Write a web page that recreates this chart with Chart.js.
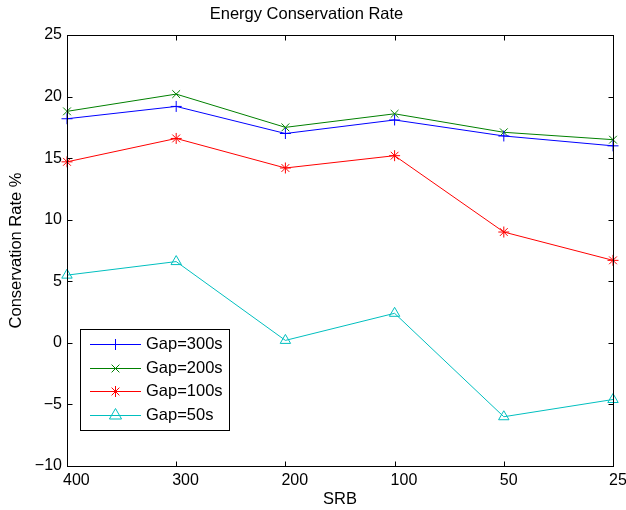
<!DOCTYPE html>
<html>
<head>
<meta charset="utf-8">
<script src="https://cdn.jsdelivr.net/npm/chart.js@4.4.0/dist/chart.umd.min.js"></script>
<style>
  html, body { margin: 0; padding: 0; background: #fff; }
</style>
</head>
<body>
<canvas id="c" width="626" height="510"></canvas>
<script>
const labels = ['400', '300', '200', '100', '50', '25'];
const gap300 = [18.2, 19.2, 17.0, 18.1, 16.8, 16.0];
const gap200 = [18.8, 20.2, 17.5, 18.6, 17.1, 16.5];
const gap100 = [14.7, 16.6, 14.2, 15.2, 9.0, 6.7];
const gap50 = [5.5, 6.6, 0.2, 2.4, -6.0, -4.6];
const yTicks = [-10, -5, 0, 5, 10, 15, 20, 25];

const family = '"Liberation Sans", Arial, Helvetica, sans-serif';

function series(label, data, color, style, r) {
    return {
        label: label,
        data: data,
        borderColor: color,
        backgroundColor: color,
        borderWidth: 1,
        pointStyle: style,
        pointRadius: r,
        pointBorderWidth: 1,
        pointBorderColor: color,
        pointBackgroundColor: 'rgba(0,0,0,0)',
        tension: 0,
        clip: false
    };
}

// own marker drawing for the legend
function marker(ctx, style, x, y, r) {
    ctx.beginPath();
    if (style === 'cross') {
        ctx.moveTo(x - r, y); ctx.lineTo(x + r, y);
        ctx.moveTo(x, y - r); ctx.lineTo(x, y + r);
    } else if (style === 'crossRot') {
        let d = r * 0.707;
        ctx.moveTo(x - d, y - d); ctx.lineTo(x + d, y + d);
        ctx.moveTo(x - d, y + d); ctx.lineTo(x + d, y - d);
    } else if (style === 'star') {
        let d = r * 0.707;
        ctx.moveTo(x - r, y); ctx.lineTo(x + r, y);
        ctx.moveTo(x, y - r); ctx.lineTo(x, y + r);
        ctx.moveTo(x - d, y - d); ctx.lineTo(x + d, y + d);
        ctx.moveTo(x - d, y + d); ctx.lineTo(x + d, y - d);
    } else if (style === 'triangle') {
        ctx.moveTo(x, y - r);
        ctx.lineTo(x + r * 0.866, y + r * 0.5);
        ctx.lineTo(x - r * 0.866, y + r * 0.5);
        ctx.closePath();
    }
    ctx.stroke();
}

const axesBox = {
    id: 'axesBox',
    afterDraw(chart) {
        const ctx = chart.ctx;
        const a = chart.chartArea;
        const L = Math.round(a.left) + 0.5, R = Math.round(a.right) + 0.5;
        const T = Math.round(a.top) + 0.5, B = Math.round(a.bottom) + 0.5;
        ctx.save();
        ctx.strokeStyle = '#000';
        ctx.lineWidth = 1;
        ctx.strokeRect(L, T, R - L, B - T);
        ctx.beginPath();
        const xs = chart.scales.x;
        for (let i = 0; i < xs.ticks.length; i++) {
            let px = Math.round(xs.getPixelForTick(i)) + 0.5;
            ctx.moveTo(px, B); ctx.lineTo(px, B - 5);
            ctx.moveTo(px, T); ctx.lineTo(px, T + 5);
        }
        const ys = chart.scales.y;
        for (let i = 0; i < ys.ticks.length; i++) {
            let py = Math.round(ys.getPixelForTick(i)) + 0.5;
            ctx.moveTo(L, py); ctx.lineTo(L + 5, py);
            ctx.moveTo(R, py); ctx.lineTo(R - 5, py);
        }
        ctx.stroke();
        ctx.restore();
    }
};

const legendBox = {
    id: 'legendBox',
    afterDraw(chart) {
        const ctx = chart.ctx;
        ctx.save();
        ctx.fillStyle = '#fff';
        ctx.fillRect(80.5, 329.5, 149, 101);
        ctx.strokeStyle = '#000';
        ctx.lineWidth = 1;
        ctx.strokeRect(80.5, 329.5, 149, 101);
        chart.data.datasets.forEach((ds, i) => {
            let y = Math.round(344 + i * 23.6) + 0.5;
            ctx.strokeStyle = ds.borderColor;
            ctx.beginPath();
            ctx.moveTo(90, y); ctx.lineTo(141, y);
            ctx.stroke();
            marker(ctx, ds.pointStyle, 115.5, y, ds.pointStyle === 'triangle' ? 7 : 5.5);
            ctx.fillStyle = '#000';
            ctx.font = '16.5px ' + family;
            ctx.textBaseline = 'middle';
            ctx.textAlign = 'left';
            ctx.fillText(ds.label, 146, y);
        });
        ctx.restore();
    }
};

new Chart(document.getElementById('c'), {
    type: 'line',
    data: {
        labels: labels,
        datasets: [
            series('Gap=300s', gap300, '#0000ff', 'cross', 5.5),
            series('Gap=200s', gap200, '#008000', 'crossRot', 5.5),
            series('Gap=100s', gap100, '#ff0000', 'star', 5.5),
            series('Gap=50s', gap50, '#00bfbf', 'triangle', 6)
        ]
    },
    options: {
        responsive: false,
        animation: false,
        layout: { padding: { left: 0, right: 13, top: 0, bottom: 0 } },
        plugins: {
            legend: { display: false },
            tooltip: { enabled: false },
            title: {
                display: true,
                text: 'Energy Conservation Rate',
                color: '#000',
                font: { family: family, size: 16.5, weight: 'normal' },
                padding: { top: 4.6, bottom: 10.6 }
            }
        },
        scales: {
            x: {
                type: 'category',
                offset: false,
                grid: { display: false, drawTicks: false },
                border: { display: false },
                ticks: {
                    color: '#000',
                    font: { family: family, size: 16 },
                    padding: 5,
                    align: 'start',
                    labelOffset: -4,
                    maxRotation: 0,
                    autoSkip: false
                },
                title: {
                    display: true,
                    text: 'SRB',
                    color: '#000',
                    font: { family: family, size: 16.5 },
                    padding: { top: 0, bottom: 1 }
                },
                afterFit(s) { s.height = 44; s.paddingLeft = 0; s.paddingRight = 0; }
            },
            y: {
                min: -10,
                max: 25,
                grid: { display: false, drawTicks: false },
                border: { display: false },
                afterBuildTicks(s) { s.ticks = yTicks.map(v => ({ value: v })); },
                ticks: {
                    color: '#000',
                    font: { family: family, size: 16 },
                    padding: 5,
                    callback: v => v < 0 ? '\u2212' + Math.abs(v) : String(v)
                },
                title: {
                    display: true,
                    text: 'Conservation Rate %',
                    color: '#000',
                    font: { family: family, size: 16.5 },
                    padding: { top: 7, bottom: 0 }
                },
                afterFit(s) { s.width = 67; }
            }
        }
    },
    plugins: [axesBox, legendBox]
});
</script>
</body>
</html>
